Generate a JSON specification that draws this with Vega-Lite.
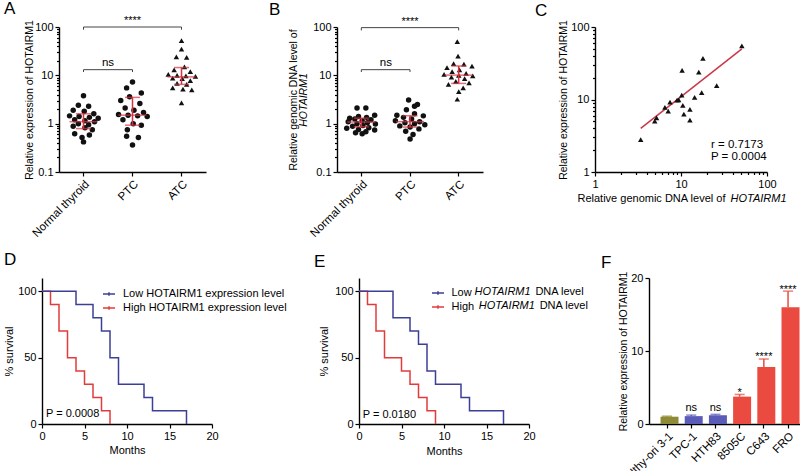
{
"$schema":"https://vega.github.io/schema/vega-lite/v6.json",
"padding":{"left":3,"top":0,"right":0,"bottom":0},
"background":"white",
"config":{
"font":"Liberation Sans",
"view":{"stroke":null},
"axis":{"labelFont":"Liberation Sans","titleFont":"Liberation Sans","labelFontSize":11,"titleFontSize":10.5,"titleFontWeight":"normal","labelColor":"#000","titleColor":"#000","domainColor":"#000","tickColor":"#000","domainWidth":1.4,"tickWidth":1.2,"tickSize":4,"labelPadding":2,"grid":false,"labelFlush":false,"labelOverlap":false},
"title":{"font":"Liberation Sans","fontSize":17,"fontWeight":"normal","color":"#000","anchor":"start","frame":"group"},
"legend":{"labelFont":"Liberation Sans","labelFontSize":11,"labelColor":"#000","labelLimit":400},
"text":{"font":"Liberation Sans","color":"#000"}
},
"datasets":{
"a_pts":[
{"group":"Normal thyroid","value":3.8,"spread":0},{"group":"Normal thyroid","value":2.4,"spread":-0.35},{"group":"Normal thyroid","value":2.3,"spread":0.35},{"group":"Normal thyroid","value":1.9,"spread":-0.7},{"group":"Normal thyroid","value":1.8,"spread":0.05},{"group":"Normal thyroid","value":1.6,"spread":0.7},{"group":"Normal thyroid","value":1.45,"spread":-0.95},{"group":"Normal thyroid","value":1.4,"spread":-0.3},{"group":"Normal thyroid","value":1.35,"spread":0.4},{"group":"Normal thyroid","value":1.3,"spread":1.0},{"group":"Normal thyroid","value":1.2,"spread":-0.6},{"group":"Normal thyroid","value":1.15,"spread":0.1},{"group":"Normal thyroid","value":1.1,"spread":0.75},{"group":"Normal thyroid","value":1.0,"spread":-0.35},{"group":"Normal thyroid","value":0.95,"spread":0.35},{"group":"Normal thyroid","value":0.88,"spread":-0.7},{"group":"Normal thyroid","value":0.82,"spread":0.1},{"group":"Normal thyroid","value":0.75,"spread":0.6},{"group":"Normal thyroid","value":0.62,"spread":-0.6},{"group":"Normal thyroid","value":0.58,"spread":0.4},{"group":"Normal thyroid","value":0.52,"spread":-0.1},{"group":"Normal thyroid","value":0.42,"spread":0},
{"group":"PTC","value":7.3,"spread":0},{"group":"PTC","value":5.5,"spread":-0.4},{"group":"PTC","value":4.3,"spread":0.6},{"group":"PTC","value":3.6,"spread":-0.2},{"group":"PTC","value":3.0,"spread":-0.8},{"group":"PTC","value":2.6,"spread":0.5},{"group":"PTC","value":2.1,"spread":-0.5},{"group":"PTC","value":1.9,"spread":0.1},{"group":"PTC","value":1.7,"spread":0.75},{"group":"PTC","value":1.55,"spread":-0.95},{"group":"PTC","value":1.5,"spread":-0.3},{"group":"PTC","value":1.45,"spread":0.35},{"group":"PTC","value":1.4,"spread":1.0},{"group":"PTC","value":1.2,"spread":-0.65},{"group":"PTC","value":1.0,"spread":0.05},{"group":"PTC","value":0.93,"spread":0.6},{"group":"PTC","value":0.75,"spread":-0.35},{"group":"PTC","value":0.55,"spread":-0.4},{"group":"PTC","value":0.52,"spread":0.4},{"group":"PTC","value":0.36,"spread":0},
{"group":"ATC","value":52,"spread":0},{"group":"ATC","value":35,"spread":0},{"group":"ATC","value":24,"spread":-0.35},{"group":"ATC","value":23.5,"spread":0.35},{"group":"ATC","value":15,"spread":0.2},{"group":"ATC","value":13,"spread":-0.5},{"group":"ATC","value":12,"spread":0.6},{"group":"ATC","value":10.5,"spread":-0.9},{"group":"ATC","value":10,"spread":-0.3},{"group":"ATC","value":9.8,"spread":0.3},{"group":"ATC","value":9.5,"spread":0.95},{"group":"ATC","value":8.8,"spread":-0.6},{"group":"ATC","value":8.5,"spread":0.05},{"group":"ATC","value":7.8,"spread":0.6},{"group":"ATC","value":6.8,"spread":-0.3},{"group":"ATC","value":6.5,"spread":0.35},{"group":"ATC","value":5.5,"spread":-0.6},{"group":"ATC","value":5.2,"spread":0.1},{"group":"ATC","value":5.0,"spread":0.7},{"group":"ATC","value":2.7,"spread":0}
],
"a_sum":[{"group":"Normal thyroid","median":1.1,"lo":0.79,"hi":1.6},{"group":"PTC","median":1.5,"lo":0.93,"hi":3.5},{"group":"ATC","median":9.3,"lo":6.5,"hi":14.5}],
"a_br":[{"from":"Normal thyroid","to":"PTC","y":13.1,"yEnd":11.7,"label":"ns","labelY":17.9},{"from":"Normal thyroid","to":"ATC","y":100,"yEnd":88,"label":"****","labelY":133,"at":"PTC"}],
"b_pts":[
{"group":"Normal thyroid","value":2.1,"spread":-0.3},{"group":"Normal thyroid","value":2.1,"spread":0.3},{"group":"Normal thyroid","value":1.5,"spread":0.9},{"group":"Normal thyroid","value":1.4,"spread":-0.2},{"group":"Normal thyroid","value":1.35,"spread":0.35},{"group":"Normal thyroid","value":1.3,"spread":-0.8},{"group":"Normal thyroid","value":1.25,"spread":-0.45},{"group":"Normal thyroid","value":1.2,"spread":0.65},{"group":"Normal thyroid","value":1.15,"spread":0.05},{"group":"Normal thyroid","value":1.1,"spread":-0.9},{"group":"Normal thyroid","value":1.05,"spread":0.4},{"group":"Normal thyroid","value":1.0,"spread":-0.3},{"group":"Normal thyroid","value":0.98,"spread":0.95},{"group":"Normal thyroid","value":0.92,"spread":0.1},{"group":"Normal thyroid","value":0.88,"spread":-0.6},{"group":"Normal thyroid","value":0.82,"spread":0.5},{"group":"Normal thyroid","value":0.8,"spread":-1.0},{"group":"Normal thyroid","value":0.76,"spread":-0.2},{"group":"Normal thyroid","value":0.74,"spread":0.9},{"group":"Normal thyroid","value":0.68,"spread":0.3},{"group":"Normal thyroid","value":0.65,"spread":-0.4},{"group":"Normal thyroid","value":0.62,"spread":0.05},
{"group":"PTC","value":3.1,"spread":-0.1},{"group":"PTC","value":2.5,"spread":0.5},{"group":"PTC","value":2.3,"spread":0.3},{"group":"PTC","value":1.95,"spread":-0.25},{"group":"PTC","value":1.6,"spread":0.3},{"group":"PTC","value":1.5,"spread":-0.9},{"group":"PTC","value":1.45,"spread":0.9},{"group":"PTC","value":1.35,"spread":-0.45},{"group":"PTC","value":1.25,"spread":0.1},{"group":"PTC","value":1.15,"spread":-1.0},{"group":"PTC","value":1.1,"spread":0.65},{"group":"PTC","value":1.05,"spread":-0.35},{"group":"PTC","value":1.0,"spread":0.3},{"group":"PTC","value":0.95,"spread":1.0},{"group":"PTC","value":0.9,"spread":-0.7},{"group":"PTC","value":0.85,"spread":0.0},{"group":"PTC","value":0.78,"spread":0.6},{"group":"PTC","value":0.7,"spread":-0.3},{"group":"PTC","value":0.6,"spread":0.2},{"group":"PTC","value":0.48,"spread":0.0},
{"group":"ATC","value":50,"spread":-0.1},{"group":"ATC","value":25,"spread":-0.05},{"group":"ATC","value":17.5,"spread":-0.35},{"group":"ATC","value":17,"spread":0.35},{"group":"ATC","value":15.5,"spread":0.9},{"group":"ATC","value":14.5,"spread":-0.8},{"group":"ATC","value":13,"spread":0.05},{"group":"ATC","value":12,"spread":-0.45},{"group":"ATC","value":11,"spread":0.5},{"group":"ATC","value":10.5,"spread":-1.0},{"group":"ATC","value":10,"spread":0.0},{"group":"ATC","value":9.8,"spread":0.95},{"group":"ATC","value":9.2,"spread":-0.5},{"group":"ATC","value":8.5,"spread":0.4},{"group":"ATC","value":7.5,"spread":-0.2},{"group":"ATC","value":7.0,"spread":0.7},{"group":"ATC","value":6.5,"spread":-0.7},{"group":"ATC","value":5.5,"spread":0.3},{"group":"ATC","value":4.6,"spread":0.0},{"group":"ATC","value":3.2,"spread":-0.1}
],
"b_sum":[{"group":"Normal thyroid","median":1.08,"lo":0.86,"hi":1.3},{"group":"PTC","median":1.1,"lo":0.85,"hi":1.46},{"group":"ATC","median":10.1,"lo":6.8,"hi":15.6}],
"b_br":[{"from":"Normal thyroid","to":"PTC","y":13.1,"yEnd":11.7,"label":"ns","labelY":17.9},{"from":"Normal thyroid","to":"ATC","y":97,"yEnd":85,"label":"****","labelY":128,"at":"PTC"}],
"c_pts":[{"dna":51,"expr":55},{"dna":18,"expr":37},{"dna":10.3,"expr":25.2},{"dna":16.1,"expr":23.9},{"dna":26,"expr":15.5},{"dna":17.4,"expr":12.4},{"dna":10.2,"expr":11.5},{"dna":14.4,"expr":10.7},{"dna":9.0,"expr":9.8},{"dna":9.4,"expr":9.9},{"dna":7.45,"expr":9.2},{"dna":10.5,"expr":8.3},{"dna":6.5,"expr":7.8},{"dna":12.7,"expr":7.3},{"dna":7.1,"expr":6.9},{"dna":10.8,"expr":6.3},{"dna":5.2,"expr":5.6},{"dna":4.95,"expr":5.05},{"dna":12.7,"expr":5.2},{"dna":3.4,"expr":2.8}],
"c_fit":[{"dna":3.4,"expr":4.0},{"dna":51,"expr":50}],
"c_txt":[{"dna":22.3,"expr":2.34,"label":"r = 0.7173"},{"dna":22.3,"expr":1.61,"label":"P = 0.0004"}],
"d_km":[
{"series":"High HOTAIRM1 expression level","t":0,"s":100},{"series":"High HOTAIRM1 expression level","t":1,"s":90},{"series":"High HOTAIRM1 expression level","t":2,"s":70},{"series":"High HOTAIRM1 expression level","t":3,"s":50},{"series":"High HOTAIRM1 expression level","t":4,"s":40},{"series":"High HOTAIRM1 expression level","t":5,"s":30},{"series":"High HOTAIRM1 expression level","t":6,"s":20},{"series":"High HOTAIRM1 expression level","t":7,"s":10},{"series":"High HOTAIRM1 expression level","t":8,"s":0},
{"series":"Low HOTAIRM1 expression level","t":0,"s":100},{"series":"Low HOTAIRM1 expression level","t":4,"s":90},{"series":"Low HOTAIRM1 expression level","t":6,"s":80},{"series":"Low HOTAIRM1 expression level","t":7,"s":70},{"series":"Low HOTAIRM1 expression level","t":8,"s":50},{"series":"Low HOTAIRM1 expression level","t":9,"s":30},{"series":"Low HOTAIRM1 expression level","t":12,"s":20},{"series":"Low HOTAIRM1 expression level","t":13,"s":10},{"series":"Low HOTAIRM1 expression level","t":17,"s":0}
],
"d_txt":[{"t":0.47,"s":7.5,"label":"P = 0.0008"}],
"e_km":[
{"series":"High HOTAIRM1 DNA level","t":0,"s":100},{"series":"High HOTAIRM1 DNA level","t":1,"s":90},{"series":"High HOTAIRM1 DNA level","t":2,"s":70},{"series":"High HOTAIRM1 DNA level","t":3,"s":50},{"series":"High HOTAIRM1 DNA level","t":5,"s":40},{"series":"High HOTAIRM1 DNA level","t":6,"s":30},{"series":"High HOTAIRM1 DNA level","t":7,"s":20},{"series":"High HOTAIRM1 DNA level","t":8,"s":10},{"series":"High HOTAIRM1 DNA level","t":9,"s":0},
{"series":"Low HOTAIRM1 DNA level","t":0,"s":100},{"series":"Low HOTAIRM1 DNA level","t":4,"s":80},{"series":"Low HOTAIRM1 DNA level","t":6,"s":70},{"series":"Low HOTAIRM1 DNA level","t":7,"s":60},{"series":"Low HOTAIRM1 DNA level","t":8,"s":40},{"series":"Low HOTAIRM1 DNA level","t":9,"s":30},{"series":"Low HOTAIRM1 DNA level","t":12,"s":20},{"series":"Low HOTAIRM1 DNA level","t":13,"s":10},{"series":"Low HOTAIRM1 DNA level","t":17,"s":0}
],
"e_txt":[{"t":0.44,"s":6.6,"label":"P = 0.0180"}],
"e_ital":[{"t":13.6,"s":99.2,"label":"HOTAIRM1"},{"t":14.1,"s":88.7,"label":"HOTAIRM1"}],
"e_rest":[{"t":20.75,"s":99.2,"label":"DNA level"},{"t":21.25,"s":88.7,"label":"DNA level"}],
"f_bars":[
{"line":"Nthy-ori 3-1","mean":1.0,"upper":1.07,"type":"normal","sig":"","sigY":1.07},
{"line":"TPC-1","mean":1.08,"upper":1.22,"type":"ptc","sig":"ns","sigY":1.75},
{"line":"HTH83","mean":1.2,"upper":1.32,"type":"ptc","sig":"ns","sigY":1.75},
{"line":"8505C","mean":3.75,"upper":4.05,"type":"atc","sig":"*","sigY":3.85},
{"line":"C643","mean":7.8,"upper":8.9,"type":"atc","sig":"****","sigY":8.8},
{"line":"FRO","mean":16.0,"upper":18.2,"type":"atc","sig":"****","sigY":18.0}
]
},
"bounds":"full",
"columns":1,
"spacing":10,
"resolve":{"scale":{"color":"independent","shape":"independent"},"legend":{"color":"independent","shape":"independent"}},
"concat":[
{"bounds":"flush","spacing":16,
 "resolve":{"scale":{"color":"independent","shape":"independent"},"legend":{"color":"independent","shape":"independent"}},
 "hconcat":[
 {"width":1,"height":1,"data":{"values":[]},"mark":"point"},
 {"bounds":"flush","spacing":536,
 "resolve":{"scale":{"color":"independent","shape":"independent"},"legend":{"color":"independent","shape":"independent"}},
 "hconcat":[
 {"bounds":"flush","spacing":131,
  "resolve":{"scale":{"color":"independent","shape":"independent"},"legend":{"color":"independent","shape":"independent"}},
  "hconcat":[
  {"width":147,"height":145,
   "title":{"text":"A","dx":-55,"offset":-3.3},
   "resolve":{"axis":{"y":"independent"}},
   "layer":[
    {"data":{"name":"a_pts"},"mark":{"type":"point","filled":true,"opacity":1,"size":30,"color":"#111"},
     "encoding":{
      "x":{"field":"group","type":"nominal","title":null,"scale":{"type":"band","domain":["Normal thyroid","PTC","ATC"],"paddingInner":0.4,"paddingOuter":0.2},"axis":{"labelAngle":-45,"labelAlign":"right","labelBaseline":"top","labelFontSize":11.5}},
      "xOffset":{"field":"spread","type":"quantitative","scale":{"domain":[-1,1],"range":[0,29.4]}},
      "y":{"field":"value","type":"quantitative","scale":{"type":"log","domain":[0.1,100]},"axis":{"orient":"left","values":[0.1,1,10,100],"format":"~g","title":"Relative expression of HOTAIRM1","titleX":-30,"titleY":72.5,"titleBaseline":"middle","titleAlign":"center","titleAngle":-90}},
      "shape":{"field":"group","type":"nominal","scale":{"domain":["Normal thyroid","PTC","ATC"],"range":["circle","circle","triangle-up"]},"legend":null}}},
    {"data":{"name":"a_sum"},"mark":{"type":"tick","color":"#d6303f","thickness":1.5,"size":28},
     "encoding":{"x":{"field":"group","type":"nominal"},"y":{"field":"median","type":"quantitative","axis":{"orient":"left","values":[0.2,0.3,0.4,0.5,0.6,0.7,0.8,0.9,2,3,4,5,6,7,8,9,20,30,40,50,60,70,80,90],"labels":false,"domain":false,"tickSize":2.5,"title":null}}}},
    {"data":{"name":"a_sum"},"mark":{"type":"rule","color":"#d6303f","strokeWidth":1.5},
     "encoding":{"x":{"field":"group","type":"nominal"},"y":{"field":"lo","type":"quantitative","axis":null},"y2":{"field":"hi"}}},
    {"data":{"name":"a_sum"},"mark":{"type":"tick","color":"#d6303f","thickness":1.5,"size":15},
     "encoding":{"x":{"field":"group","type":"nominal"},"y":{"field":"lo","type":"quantitative","axis":null}}},
    {"data":{"name":"a_sum"},"mark":{"type":"tick","color":"#d6303f","thickness":1.5,"size":15},
     "encoding":{"x":{"field":"group","type":"nominal"},"y":{"field":"hi","type":"quantitative","axis":null}}},
    {"data":{"name":"a_br"},"mark":{"type":"rule","color":"#444","strokeWidth":1},
     "encoding":{"x":{"field":"from","type":"nominal"},"x2":{"field":"to"},"y":{"field":"y","type":"quantitative","axis":null}}},
    {"data":{"name":"a_br"},"transform":[{"fold":["from","to"],"as":["end","cat"]}],"mark":{"type":"rule","color":"#444","strokeWidth":1},
     "encoding":{"x":{"field":"cat","type":"nominal"},"y":{"field":"y","type":"quantitative","axis":null},"y2":{"field":"yEnd"}}},
    {"data":{"name":"a_br"},"transform":[{"filter":"datum.label == 'ns'"}],"mark":{"type":"text","fontSize":11.5,"dx":24.5,"baseline":"middle"},
     "encoding":{"x":{"field":"from","type":"nominal"},"y":{"field":"labelY","type":"quantitative","axis":null},"text":{"field":"label"}}},
    {"data":{"name":"a_br"},"transform":[{"filter":"datum.label == '****'"}],"mark":{"type":"text","fontSize":11,"baseline":"middle"},
     "encoding":{"x":{"field":"at","type":"nominal"},"y":{"field":"labelY","type":"quantitative","axis":null},"text":{"field":"label"}}}
   ]},
  {"width":146,"height":145,
   "title":{"text":"B","dx":-68,"offset":-3.3},
   "resolve":{"axis":{"y":"independent"}},
   "layer":[
    {"data":{"name":"b_pts"},"mark":{"type":"point","filled":true,"opacity":1,"size":30,"color":"#111"},
     "encoding":{
      "x":{"field":"group","type":"nominal","title":null,"scale":{"type":"band","domain":["Normal thyroid","PTC","ATC"],"paddingInner":0.4,"paddingOuter":0.2},"axis":{"labelAngle":-45,"labelAlign":"right","labelBaseline":"top","labelFontSize":11.5}},
      "xOffset":{"field":"spread","type":"quantitative","scale":{"domain":[-1,1],"range":[0,29.2]}},
      "y":{"field":"value","type":"quantitative","scale":{"type":"log","domain":[0.1,100]},"axis":{"orient":"left","values":[0.1,1,10,100],"format":"~g","title":"Relative genomic DNA level of","titleX":-44,"titleY":72.5,"titleBaseline":"middle","titleAlign":"center","titleAngle":-90}},
      "shape":{"field":"group","type":"nominal","scale":{"domain":["Normal thyroid","PTC","ATC"],"range":["circle","circle","triangle-up"]},"legend":null}}},
    {"data":{"name":"b_sum"},"mark":{"type":"tick","color":"#d6303f","thickness":1.5,"size":28},
     "encoding":{"x":{"field":"group","type":"nominal"},"y":{"field":"median","type":"quantitative","axis":{"orient":"left","values":[0.2,0.3,0.4,0.5,0.6,0.7,0.8,0.9,2,3,4,5,6,7,8,9,20,30,40,50,60,70,80,90],"labels":false,"domain":false,"tickSize":2.5,"title":"HOTAIRM1","titleFontStyle":"italic","titleX":-34,"titleY":72.5,"titleBaseline":"middle","titleAlign":"center","titleAngle":-90}}}},
    {"data":{"name":"b_sum"},"mark":{"type":"rule","color":"#d6303f","strokeWidth":1.5},
     "encoding":{"x":{"field":"group","type":"nominal"},"y":{"field":"lo","type":"quantitative","axis":null},"y2":{"field":"hi"}}},
    {"data":{"name":"b_sum"},"mark":{"type":"tick","color":"#d6303f","thickness":1.5,"size":15},
     "encoding":{"x":{"field":"group","type":"nominal"},"y":{"field":"lo","type":"quantitative","axis":null}}},
    {"data":{"name":"b_sum"},"mark":{"type":"tick","color":"#d6303f","thickness":1.5,"size":15},
     "encoding":{"x":{"field":"group","type":"nominal"},"y":{"field":"hi","type":"quantitative","axis":null}}},
    {"data":{"name":"b_br"},"mark":{"type":"rule","color":"#444","strokeWidth":1},
     "encoding":{"x":{"field":"from","type":"nominal"},"x2":{"field":"to"},"y":{"field":"y","type":"quantitative","axis":null}}},
    {"data":{"name":"b_br"},"transform":[{"fold":["from","to"],"as":["end","cat"]}],"mark":{"type":"rule","color":"#444","strokeWidth":1},
     "encoding":{"x":{"field":"cat","type":"nominal"},"y":{"field":"y","type":"quantitative","axis":null},"y2":{"field":"yEnd"}}},
    {"data":{"name":"b_br"},"transform":[{"filter":"datum.label == 'ns'"}],"mark":{"type":"text","fontSize":11.5,"dx":24.5,"baseline":"middle"},
     "encoding":{"x":{"field":"from","type":"nominal"},"y":{"field":"labelY","type":"quantitative","axis":null},"text":{"field":"label"}}},
    {"data":{"name":"b_br"},"transform":[{"filter":"datum.label == '****'"}],"mark":{"type":"text","fontSize":11,"baseline":"middle"},
     "encoding":{"x":{"field":"at","type":"nominal"},"y":{"field":"labelY","type":"quantitative","axis":null},"text":{"field":"label"}}}
   ]}
 ]},
 {"width":172,"height":145,
  "title":{"text":"C","dx":-60,"offset":0},
  "resolve":{"axis":{"x":"independent","y":"independent"}},
  "layer":[
   {"data":{"name":"c_fit"},"mark":{"type":"line","color":"#c9384a","strokeWidth":1.5},
    "encoding":{
     "x":{"field":"dna","type":"quantitative","scale":{"type":"log","domain":[1,100]},"axis":{"orient":"bottom","values":[2,3,4,5,6,7,8,9,20,30,40,50,60,70,80,90],"labels":false,"domain":false,"tickSize":2.5,"title":"HOTAIRM1","titleFontStyle":"italic","titleFontSize":11,"titleX":135,"titleY":26,"titleAlign":"left","titleBaseline":"middle","titleAngle":0}},
     "y":{"field":"expr","type":"quantitative","scale":{"type":"log","domain":[1,100]},"axis":{"orient":"left","values":[2,3,4,5,6,7,8,9,20,30,40,50,60,70,80,90],"labels":false,"domain":false,"tickSize":2.5,"title":null}}}},
   {"data":{"name":"c_pts"},"mark":{"type":"point","shape":"triangle-up","filled":true,"size":30,"color":"#111","opacity":1},
    "encoding":{
     "x":{"field":"dna","type":"quantitative","axis":{"orient":"bottom","values":[1,10,100],"format":"~g","title":"Relative genomic DNA level of","titleFontSize":11,"titleX":-18,"titleY":26,"titleAlign":"left","titleBaseline":"middle","titleAngle":0}},
     "y":{"field":"expr","type":"quantitative","axis":{"orient":"left","values":[1,10,100],"format":"~g","title":"Relative expression of HOTAIRM1","titleX":-32,"titleY":72.5,"titleBaseline":"middle","titleAlign":"center","titleAngle":-90}}}},
   {"data":{"name":"c_txt"},"mark":{"type":"text","align":"left","baseline":"middle","fontSize":11.5},
    "encoding":{"x":{"field":"dna","type":"quantitative","axis":null},"y":{"field":"expr","type":"quantitative","axis":null},"text":{"field":"label"}}}
  ]}
 ]}
]},
{"bounds":"flush","spacing":607,
 "resolve":{"scale":{"color":"independent","shape":"independent"},"legend":{"color":"independent","shape":"independent"}},
 "hconcat":[
 {"bounds":"flush","spacing":147,
  "resolve":{"scale":{"color":"independent","shape":"independent"},"legend":{"color":"independent","shape":"independent"}},
  "hconcat":[
  {"width":170,"height":146,
   "title":{"text":"D","dx":-38,"offset":9.3},
   "layer":[
    {"data":{"name":"d_km"},"mark":{"type":"line","interpolate":"step-after","strokeWidth":1.5},
     "encoding":{
      "x":{"field":"t","type":"quantitative","scale":{"domain":[0,20]},"axis":{"values":[0,5,10,15,20],"title":"Months","titlePadding":3,"titleFontSize":11}},
      "y":{"field":"s","type":"quantitative","scale":{"domain":[0,110]},"axis":{"values":[0,50,100],"title":"% survival","titleFontSize":11,"titleX":-33,"titleY":73,"titleBaseline":"middle","titleAlign":"center","titleAngle":-90}},
      "color":{"field":"series","type":"nominal","scale":{"domain":["Low HOTAIRM1 expression level","High HOTAIRM1 expression level"],"range":["#3c3f96","#e23b3b"]},
       "legend":{"title":null,"orient":"none","legendX":60,"legendY":9,"symbolType":"M-1,0H1M0,-0.3V0.3","symbolSize":144,"symbolStrokeWidth":1.5,"labelOffset":7,"rowPadding":2,"padding":0,"labelFontSize":11,"labelLimit":400}}}},
    {"data":{"name":"d_txt"},"mark":{"type":"text","align":"left","baseline":"middle","fontSize":11},
     "encoding":{"x":{"field":"t","type":"quantitative"},"y":{"field":"s","type":"quantitative"},"text":{"field":"label"}}}
   ]},
  {"width":170,"height":146,
   "title":{"text":"E","dx":-45,"offset":7.3},
   "layer":[
    {"data":{"name":"e_km"},"mark":{"type":"line","interpolate":"step-after","strokeWidth":1.5},
     "encoding":{
      "x":{"field":"t","type":"quantitative","scale":{"domain":[0,20]},"axis":{"values":[0,5,10,15,20],"title":"Months","titlePadding":4,"titleFontSize":11}},
      "y":{"field":"s","type":"quantitative","scale":{"domain":[0,110]},"axis":{"values":[0,50,100],"title":"% survival","titleFontSize":11,"titleX":-35,"titleY":73,"titleBaseline":"middle","titleAlign":"center","titleAngle":-90}},
      "color":{"field":"series","type":"nominal","scale":{"domain":["Low HOTAIRM1 DNA level","High HOTAIRM1 DNA level"],"range":["#3c3f96","#e23b3b"]},
       "legend":{"title":null,"orient":"none","legendX":72,"legendY":8,"symbolType":"M-1,0H1M0,-0.3V0.3","symbolSize":144,"symbolStrokeWidth":1.5,"labelOffset":6.5,"rowPadding":2,"padding":0,"labelFontSize":11,"labelExpr":"split(datum.label, ' ')[0]"}}}},
    {"data":{"name":"e_txt"},"mark":{"type":"text","align":"left","baseline":"middle","fontSize":11},
     "encoding":{"x":{"field":"t","type":"quantitative"},"y":{"field":"s","type":"quantitative"},"text":{"field":"label"}}},
    {"data":{"name":"e_ital"},"mark":{"type":"text","align":"left","baseline":"middle","fontSize":11,"fontStyle":"italic"},
     "encoding":{"x":{"field":"t","type":"quantitative"},"y":{"field":"s","type":"quantitative"},"text":{"field":"label"}}},
    {"data":{"name":"e_rest"},"mark":{"type":"text","align":"left","baseline":"middle","fontSize":11},
     "encoding":{"x":{"field":"t","type":"quantitative"},"y":{"field":"s","type":"quantitative"},"text":{"field":"label"}}}
   ]}
 ]},
 {"width":151,"height":146,
  "title":{"text":"F","dx":-48,"offset":-1},
  "layer":[
   {"data":{"name":"f_bars"},"mark":{"type":"bar"},
    "encoding":{
     "x":{"field":"line","type":"nominal","sort":null,"title":null,"scale":{"type":"band","paddingInner":0.46,"paddingOuter":0.35,"align":0.68},"axis":{"labelAngle":-45,"labelAlign":"right","labelBaseline":"top","labelFontSize":11.5}},
     "y":{"field":"mean","type":"quantitative","scale":{"domain":[0,20]},"axis":{"values":[0,5,10,15,20],"title":"Relative expression of HOTAIRM1","titleX":-26,"titleY":73,"titleBaseline":"middle","titleAlign":"center","titleAngle":-90}},
     "color":{"field":"type","type":"nominal","scale":{"domain":["normal","ptc","atc"],"range":["#8f8a35","#5b5cb8","#ea4a3f"]},"legend":null}}},
   {"data":{"name":"f_bars"},"mark":{"type":"rule","strokeWidth":1.5},
    "encoding":{"x":{"field":"line","type":"nominal","sort":null},"y":{"field":"mean","type":"quantitative"},"y2":{"field":"upper"},"color":{"field":"type","type":"nominal","legend":null}}},
   {"data":{"name":"f_bars"},"mark":{"type":"tick","thickness":1.5,"size":10},
    "encoding":{"x":{"field":"line","type":"nominal","sort":null},"y":{"field":"upper","type":"quantitative"},"color":{"field":"type","type":"nominal","legend":null}}},
   {"data":{"name":"f_bars"},"transform":[{"filter":"datum.sig != ''"}],"mark":{"type":"text","baseline":"alphabetic","fontSize":11},
    "encoding":{"x":{"field":"line","type":"nominal","sort":null},"y":{"field":"sigY","type":"quantitative"},"text":{"field":"sig"}}}
  ]}
]}
]
}
